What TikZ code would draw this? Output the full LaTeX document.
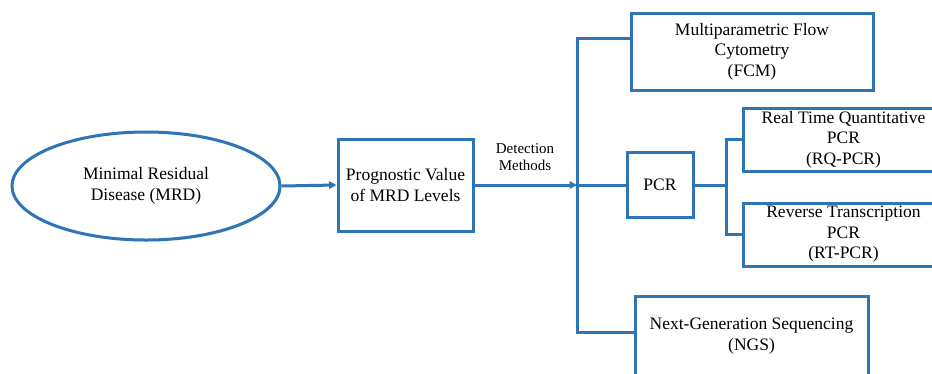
\documentclass[tikz,border=0pt]{standalone}
\usepackage{fontspec}
\newfontfamily\diagfont{Liberation Serif}
\usetikzlibrary{arrows.meta,shadows,shapes.geometric}
\definecolor{lineblue}{RGB}{46,117,182}
\tikzset{
  conn/.style={draw=lineblue, line width=3pt},
  boxshadow/.style={drop shadow={opacity=0.25, shadow xshift=1.5pt, shadow yshift=-1.5pt, fill=black!60}},
  stepbox/.style={draw=lineblue, line width=3pt, fill=white, rectangle, align=center, inner sep=0pt,
    font=\diagfont\fontsize{17.5}{20.5}\selectfont, boxshadow},
  ovalbox/.style={draw=lineblue, line width=3pt, fill=white, ellipse, align=center, inner sep=0pt,
    font=\diagfont\fontsize{17.5}{20.5}\selectfont, boxshadow},
  tip/.style={-{Triangle[length=7.5pt,width=7.5pt]}}
}
\begin{document}
\begin{tikzpicture}[x=1pt,y=-1pt]
\useasboundingbox (0,0) rectangle (932,373);
\begin{scope}
\clip (0,0) rectangle (932,373);
\node[ovalbox, minimum width=268pt, minimum height=108pt] (mrd) at (146,186) {Minimal Residual\\Disease (MRD)};
\node[stepbox, minimum width=135pt, minimum height=92pt] (prog) at (405.5,185) {Prognostic Value\\of MRD Levels};
\node[stepbox, minimum width=242pt, minimum height=77pt] (fcm) at (752,51.5) {Multiparametric Flow\\Cytometry\\(FCM)};
\node[stepbox, minimum width=66pt, minimum height=65pt] (pcr) at (660,185) {PCR};
\node[stepbox, minimum width=201pt, minimum height=63pt] (rq) at (843.5,139.5) {Real Time Quantitative\\PCR\\(RQ-PCR)};
\node[stepbox, minimum width=201pt, minimum height=63pt] (rt) at (843.5,234.5) {Reverse Transcription\\PCR\\(RT-PCR)};
\node[stepbox, minimum width=233pt, minimum height=80pt] (ngs) at (751.5,336) {Next-Generation Sequencing\\(NGS)};
\node[align=center, font=\diagfont\fontsize{15}{16.5}\selectfont, inner sep=0pt] (det) at (525,157) {Detection\\Methods};

\coordinate (stop) at (577,38);
\coordinate (smid) at (577,185);
\coordinate (sbot) at (577,332);
\coordinate (btop) at (726,139.5);
\coordinate (bbot) at (726,234.5);
\coordinate (bmid) at (726,185);

\draw[conn, tip] (mrd.east) -- (prog.west);
\draw[conn, tip] (prog.east) -- (smid);
\draw[conn] (smid) -- (pcr.west);
\draw[conn] (fcm.west |- stop) -- (stop) -- (sbot) -- (ngs.west |- sbot);
\draw[conn] (pcr.east) -- (bmid);
\draw[conn] (rq.west) -- (btop) -- (bbot) -- (rt.west);
\end{scope}
\end{tikzpicture}
\end{document}
